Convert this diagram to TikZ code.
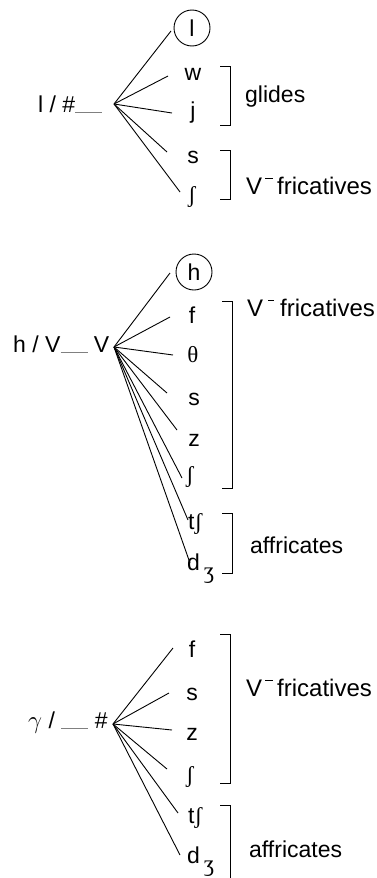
\documentclass[tikz,border=0pt]{standalone}
\usepackage{fontspec}
\setmainfont{Liberation Sans}
\newfontfamily\ipafont{Liberation Serif}
\newcommand\blankline{\textcolor{gray}{\rule[-1pt]{27pt}{0.8pt}}}
\newcommand\vminus{V\kern3pt\raisebox{15.5pt}{\rule{7.5pt}{1pt}}\kern4.5pt}
\begin{document}
\begin{tikzpicture}[x=1pt,y=-1pt,
  conn/.style={line width=0.9pt},
  brk/.style={line width=0.9pt},
  seg/.style={font=\fontsize{23}{26}\selectfont, inner sep=0pt},
  lab/.style={seg, anchor=base west},
  biglab/.style={lab, font=\fontsize{24}{27}\selectfont},
  phon/.style={seg, anchor=base},
  ipa/.style={seg, font=\fontsize{23}{26}\selectfont\ipafont},
  ring/.style={circle, draw, line width=0.9pt, minimum size=36pt, inner sep=0pt, font=\fontsize{23}{26}\selectfont}]
\useasboundingbox (0,0) rectangle (376,878);

% ---------- section 1 ----------
\node[lab] (env1) at (38,112) {l / \#\blankline};
\coordinate (hub1) at (114,104);
\node[ring] (l1) at (192,28) {l};
\node[phon] (w1) at (193,80) {w};
\node[phon] (j1) at (193,118) {j};
\node[phon] (s1) at (193,163) {s};
\node[ipa] (sh1) at (192,197) {ʃ};
\coordinate (e1a) at (171,31);
\coordinate (e1b) at (168,76);
\coordinate (e1c) at (172,113);
\coordinate (e1d) at (167,152);
\coordinate (e1e) at (180,192);
\foreach \e in {e1a,e1b,e1c,e1d,e1e} \draw[conn] (hub1) -- (\e);
\draw[brk] (220,66) -- (230,66) -- (230,125) -- (220,125);
\draw[brk] (220,150) -- (230,150) -- (230,199) -- (220,199);
\node[lab] (glides1) at (245,102) {glides};
\node[biglab] (fric1) at (246,194) {\vminus fricatives};

% ---------- section 2 ----------
\node[lab] (env2) at (13,352) {h / V\blankline\ V};
\coordinate (hub2) at (114,347);
\node[ring] (h2) at (194,272) {h};
\node[phon] (f2) at (192,323) {f};
\node[phon, font=\fontsize{23}{26}\selectfont\ipafont] (th2) at (193,362) {θ};
\node[phon] (s2) at (194,405) {s};
\node[phon] (z2) at (194,446) {z};
\node[ipa] (sh2) at (190,477) {ʃ};
\node[lab] (tsh2) at (188,529) {t{\ipafont ʃ}};
\node[lab] (dzh2) at (187,570) {d\,\raisebox{-8pt}{\ipafont ʒ}};
\coordinate (e2a) at (170,273);
\coordinate (e2b) at (170,317);
\coordinate (e2c) at (173,355);
\coordinate (e2d) at (167,393);
\coordinate (e2e) at (177,430);
\coordinate (e2f) at (182,478);
\coordinate (e2g) at (188,520);
\coordinate (e2h) at (190,563);
\foreach \e in {e2a,e2b,e2c,e2d,e2e,e2f,e2g,e2h} \draw[conn] (hub2) -- (\e);
\draw[brk] (222,301) -- (232,301) -- (232,488) -- (222,488);
\draw[brk] (222,513) -- (232,513) -- (232,573) -- (222,573);
\node[biglab] (fric2) at (247,316) {V\kern5pt\raisebox{15.5pt}{\rule{6pt}{1pt}}\kern6pt fricatives};
\node[lab] (aff2) at (250,553) {affricates};

% ---------- section 3 ----------
\node[lab] (env3) at (28,728) {$\gamma$ / \blankline\ \#};
\coordinate (hub3) at (113,724);
\node[phon] (f3) at (192,657) {f};
\node[phon] (s3) at (192,700) {s};
\node[phon] (z3) at (192,740) {z};
\node[ipa] (sh3) at (190,777) {ʃ};
\node[lab] (tsh3) at (188,823) {t{\ipafont ʃ}};
\node[lab] (dzh3) at (187,863) {d\,\raisebox{-8pt}{\ipafont ʒ}};
\coordinate (e3a) at (173,648);
\coordinate (e3b) at (169,693);
\coordinate (e3c) at (172,730);
\coordinate (e3d) at (167,769);
\coordinate (e3e) at (178,813);
\coordinate (e3f) at (180,855);
\foreach \e in {e3a,e3b,e3c,e3d,e3e,e3f} \draw[conn] (hub3) -- (\e);
\draw[brk] (220,634) -- (230,634) -- (230,783) -- (220,783);
\draw[brk] (220,805) -- (230,805) -- (230,878);
\node[biglab] (fric3) at (246,696) {\vminus fricatives};
\node[lab] (aff3) at (249,857) {affricates};
\end{tikzpicture}
\end{document}
